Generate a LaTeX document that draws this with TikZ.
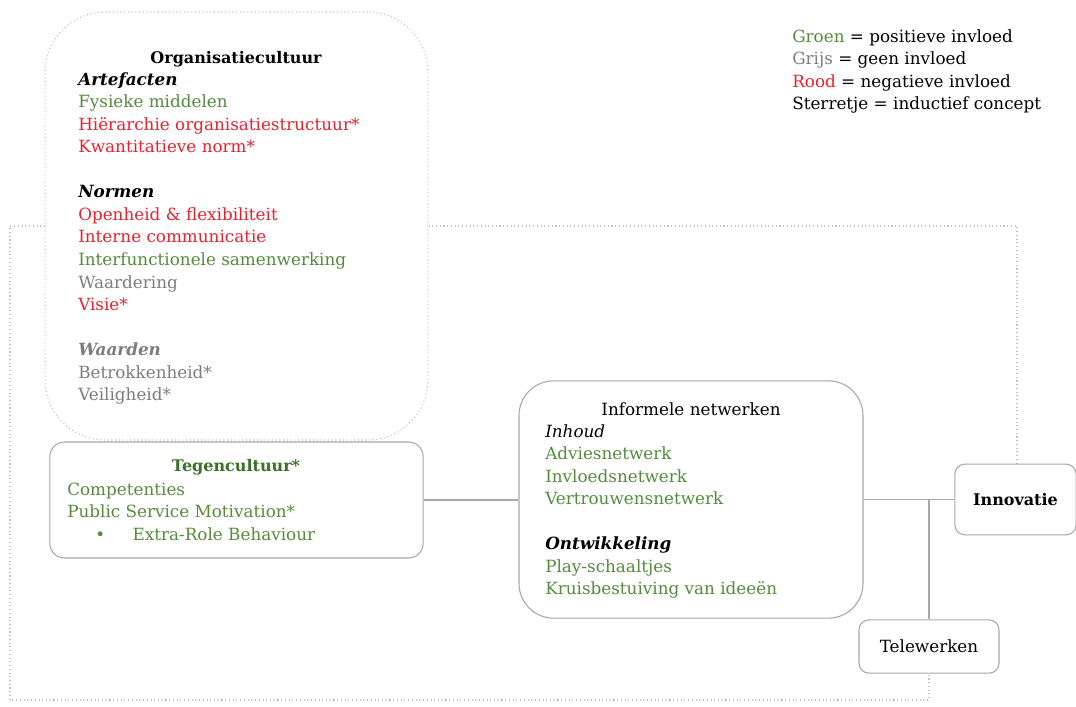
\documentclass[tikz,border=0pt]{standalone}
\usepackage{fontspec}
\setmainfont{DejaVu Serif}
\usetikzlibrary{positioning,backgrounds}
\definecolor{groen}{RGB}{84,140,60}
\definecolor{donkergroen}{RGB}{58,112,40}
\definecolor{rood}{RGB}{232,34,46}
\definecolor{grijs}{RGB}{125,125,125}
\definecolor{lijn}{RGB}{168,168,168}
\definecolor{stip}{RGB}{192,192,192}

\begin{document}
\begin{tikzpicture}[x=0.75pt,y=-0.75pt,
    font=\fontsize{12.6}{16.9}\selectfont,
    box/.style={draw=lijn,fill=white,line width=0.8pt,inner sep=0pt,rounded corners=#1},
    box/.default=7.5pt,
    stippel/.style={draw=stip,line width=0.8pt,dotted},
    verb/.style={draw=lijn,line width=0.8pt},
    titel/.style={anchor=base,inner sep=0pt,font=\fontsize{12}{16.9}\selectfont\bfseries},
    tekst/.style={anchor=north west,inner sep=0pt,align=left}]
    \useasboundingbox (0,0) rectangle (1076,707);

    % blokken
    \node[box=45pt,draw=stip,dotted,minimum width=287pt,minimum height=321pt] (org) at (236.5,226) {};
    \node[box=11pt,minimum width=280pt,minimum height=87pt] (teg) at (236.5,500) {};
    \node[box=26pt,minimum width=258pt,minimum height=178pt] (inf) at (691,499.5) {};
    \node[box,minimum width=91pt,minimum height=53pt,font=\fontsize{12}{16.9}\selectfont\bfseries] (inn) at (1015.5,499.5) {Innovatie};
    \node[box,minimum width=105pt,minimum height=40pt] (tel) at (929,646.5) {Telewerken};

    % organisatiecultuur
    \node[titel] (orgt) at (236,63) {Organisatiecultuur};
    \node[tekst] (orgl) at (78,69.2) {%
      \strut\textbf{\textit{Artefacten}}\\
      \textcolor{groen}{Fysieke middelen}\\
      \textcolor{rood}{Hiërarchie organisatiestructuur*}\\
      \textcolor{rood}{Kwantitatieve norm*}\\[16.9pt]
      \textbf{\textit{Normen}}\\
      \textcolor{rood}{Openheid \& flexibiliteit}\\
      \textcolor{rood}{Interne communicatie}\\
      \textcolor{groen}{Interfunctionele samenwerking}\\
      \textcolor{grijs}{Waardering}\\
      \textcolor{rood}{Visie*}\\[16.9pt]
      \textcolor{grijs}{\textbf{\textit{Waarden}}}\\
      \textcolor{grijs}{Betrokkenheid*}\\
      \textcolor{grijs}{Veiligheid*}};

    % tegencultuur
    \node[titel,text=donkergroen] (tegt) at (236,471) {Tegencultuur*};
    \node[tekst,text=groen] (tegl) at (67,479.2) {%
      \strut Competenties\\
      Public Service Motivation*\\
      \hspace*{21pt}\makebox[28pt][l]{\textbullet}Extra-Role Behaviour};

    % informele netwerken
    \node[titel,font=\fontsize{12.6}{16.9}\selectfont] (inft) at (691,415) {Informele netwerken};
    \node[tekst] (infl) at (545,421.2) {%
      \strut\textit{Inhoud}\\
      \textcolor{groen}{Adviesnetwerk}\\
      \textcolor{groen}{Invloedsnetwerk}\\
      \textcolor{groen}{Vertrouwensnetwerk}\\[16.9pt]
      \textbf{\textit{Ontwikkeling}}\\
      \textcolor{groen}{Play-schaaltjes}\\
      \textcolor{groen}{Kruisbestuiving van ideeën}};

    % legenda
    \node[tekst] (leg) at (792,26.2) {%
      \strut\textcolor{groen}{Groen} = positieve invloed\\
      \textcolor{grijs}{Grijs} = geen invloed\\
      \textcolor{rood}{Rood} = negatieve invloed\\
      Sterretje = inductief concept};

    % verbindingen
    \draw[verb] (teg.east) -- (teg.east -| inf.west);
    \draw[verb] (inf.east) -- (inn.west);
    \coordinate (j) at (tel.north |- inn.west);
    \draw[verb] (j) -- (tel.north);

    % kader
    \coordinate (rb) at (1017,226);
    \coordinate (lb) at (10,226);
    \coordinate (lo) at (10,700);
    \begin{scope}[on background layer]
      \draw[stippel] (inn.north -| rb) -- (rb) -- (lb) -- (lo) -- (tel.south |- lo) -- (tel.south);
    \end{scope}
\end{tikzpicture}
\end{document}
